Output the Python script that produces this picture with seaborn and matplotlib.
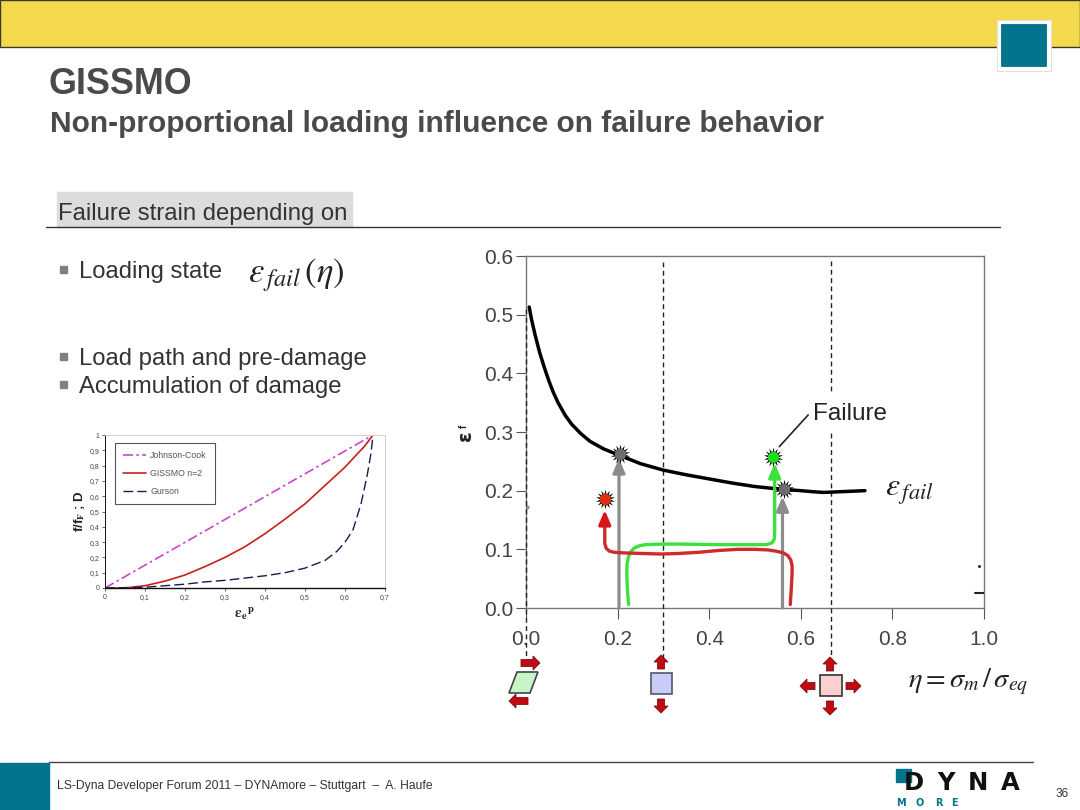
import matplotlib
matplotlib.use('Agg')
import matplotlib.pyplot as plt
from matplotlib.patches import Rectangle, Polygon, FancyArrow
import seaborn as sns

# main chart: failure strain over triaxiality
fail_eta = [0.007, 0.012, 0.02, 0.03, 0.04, 0.05, 0.06, 0.07, 0.086, 0.10, 0.12, 0.14, 0.17, 0.205, 0.25, 0.30, 0.35, 0.40, 0.45, 0.50, 0.55, 0.60, 0.63, 0.65, 0.68, 0.71, 0.74]
fail_eps = [0.513, 0.492, 0.465, 0.435, 0.41, 0.387, 0.367, 0.35, 0.328, 0.313, 0.297, 0.284, 0.271, 0.26, 0.246, 0.235, 0.227, 0.22, 0.213, 0.207, 0.203, 0.2, 0.198, 0.197, 0.198, 0.199, 0.2]

green_eta = [0.224, 0.2215, 0.22, 0.2205, 0.224, 0.229, 0.236, 0.247, 0.261, 0.30, 0.336, 0.42, 0.503, 0.525, 0.537, 0.542, 0.543, 0.543]
green_eps = [0.006, 0.03, 0.06, 0.075, 0.088, 0.096, 0.102, 0.106, 0.108, 0.109, 0.109, 0.108, 0.108, 0.108, 0.111, 0.117, 0.13, 0.225]
red_eta = [0.577, 0.579, 0.581, 0.581, 0.578, 0.572, 0.562, 0.545, 0.528, 0.50, 0.462, 0.42, 0.378, 0.335, 0.295, 0.25, 0.211, 0.192, 0.182, 0.175, 0.172, 0.172]
red_eps = [0.006, 0.03, 0.06, 0.072, 0.082, 0.089, 0.094, 0.097, 0.099, 0.1, 0.1, 0.098, 0.095, 0.093, 0.092, 0.093, 0.094, 0.095, 0.097, 0.102, 0.11, 0.145]

gray_eta = [0.203, 0.56]
gray_tip = [0.255, 0.19]
star_eta = [0.205, 0.564, 0.54, 0.172]
star_eps = [0.263, 0.203, 0.258, 0.185]
star_colors = ['#6e6e6e', '#6e6e6e', '#18e018', '#e03010']
main_xticks = [0.0, 0.2, 0.4, 0.6, 0.8, 1.0]
main_yticks = [0.0, 0.1, 0.2, 0.3, 0.4, 0.5, 0.6]

# small chart: damage over plastic strain
jc_x = [0, 0.67]
jc_y = [0, 1]
gissmo_x = [0, 0.05, 0.1, 0.15, 0.2, 0.25, 0.3, 0.35, 0.4, 0.45, 0.5, 0.55, 0.6, 0.65, 0.67]
gissmo_y = [0, 0, 0.015, 0.045, 0.085, 0.14, 0.2, 0.27, 0.355, 0.45, 0.55, 0.67, 0.79, 0.93, 1]
gurson_x = [0, 0.1, 0.15, 0.2, 0.25, 0.3, 0.35, 0.4, 0.45, 0.5, 0.55, 0.58, 0.6, 0.62, 0.64, 0.655, 0.665, 0.67]
gurson_y = [0, 0.005, 0.015, 0.025, 0.04, 0.05, 0.065, 0.08, 0.1, 0.13, 0.18, 0.24, 0.3, 0.38, 0.55, 0.73, 0.88, 1]
small_xticks = [0, 0.1, 0.2, 0.3, 0.4, 0.5, 0.6, 0.7]
small_xlabels = ['0', '0,1', '0,2', '0,3', '0,4', '0,5', '0,6', '0,7']
small_yticks = [0, 0.1, 0.2, 0.3, 0.4, 0.5, 0.6, 0.7, 0.8, 0.9, 1]
small_ylabels = ['0', '0,1', '0,2', '0,3', '0,4', '0,5', '0,6', '0,7', '0,8', '0,9', '1']

sns.set_theme(style='white')
plt.rcParams['font.family'] = ['Liberation Sans', 'DejaVu Sans']
plt.rcParams['mathtext.fontset'] = 'stix'

W, H = 1080, 810
TEAL = '#00748a'
ARROW = '#c00a14'
TITLE = '#4a4a4a'
HEAD = '-|>,head_width=0.3,head_length=0.7'


def px_axes(fig, left, top, right, bottom, **kw):
    return fig.add_axes([left / W, 1 - bottom / H, (right - left) / W, (bottom - top) / H], **kw)


def bullet(ax, y, text):
    ax.add_patch(Rectangle((60, y - 4), 7, 7, color='#808080'))
    ax.text(79, y + 2, text, fontsize=17.2, color='#333333', va='center')


def red_arrow(ax, x0, y0, x1, y1):
    ax.add_patch(FancyArrow(x0, y0, x1 - x0, y1 - y0, width=7, head_width=14, head_length=7,
                            length_includes_head=True, fc=ARROW, ec='#801010', lw=0.6))


def up_arrow(ax, x, y0, y1, color, lw, z):
    ax.annotate('', xy=(x, y1), xytext=(x, y0), zorder=z,
                arrowprops=dict(arrowstyle=HEAD, color=color, lw=lw, shrinkA=0, shrinkB=0))


fig = plt.figure(figsize=(10.8, 8.1), dpi=100)

# slide furniture in pixel coordinates
bg = px_axes(fig, 0, 0, W, H, zorder=0)
bg.set_xlim(0, W)
bg.set_ylim(H, 0)
bg.axis('off')
bg.add_patch(Rectangle((0, 0), W, 47, fc='#f4d84e', ec='#3a3a20', lw=1))
bg.add_patch(Rectangle((999, 22), 50, 47, fc=TEAL, ec='white', lw=3, zorder=3))
bg.add_patch(Rectangle((997, 20), 54, 51, fc='none', ec='#e0e0e0', lw=0.8, zorder=3))
bg.text(49, 84, 'GISSMO', fontsize=25.8, fontweight='bold', color=TITLE, va='center')
bg.text(50, 124, 'Non-proportional loading influence on failure behavior', fontsize=21.5,
        fontweight='bold', color=TITLE, va='center')
bg.add_patch(Rectangle((57, 192), 295, 35, color='#dcdcdc'))
bg.text(58, 214, 'Failure strain depending on', fontsize=17.2, color='#333333', va='center')
bg.plot([46, 1000], [227, 227], color='#333333', lw=1)
bullet(bg, 270, 'Loading state')
bg.text(248, 275, r'$\varepsilon_{\,fail}\,(\eta)$', fontsize=25, color='#222222', va='center')
bullet(bg, 357, 'Load path and pre-damage')
bullet(bg, 385, 'Accumulation of damage')

bg.add_patch(Rectangle((0, 763), 49, 47, color=TEAL))
bg.plot([49, 1033], [762, 762], color='#444444', lw=1)
bg.text(57, 786, 'LS-Dyna Developer Forum 2011 \u2013 DYNAmore \u2013 Stuttgart  \u2013  A. Haufe',
        fontsize=8.7, color='#333333', va='center')
bg.add_patch(Rectangle((896, 769), 15, 13, color=TEAL))
for letter, lx in zip('DYNA', [904, 937, 968, 1001]):
    bg.text(lx, 783, letter, fontsize=17.5, fontweight='bold', family='DejaVu Sans', color='#111111', va='center')
for letter, lx in zip('MORE', [896, 916, 935, 951]):
    bg.text(lx, 803, letter, fontsize=7, fontweight='bold', family='DejaVu Sans', color=TEAL, va='center')
bg.text(1056, 794, '36', fontsize=8.5, color='#333333', va='center')

# main chart
ax = px_axes(fig, 526, 256, 984, 608, zorder=2)
ax.patch.set_alpha(0)
sns.lineplot(x=fail_eta, y=fail_eps, ax=ax, color='black', lw=2.5, sort=False, estimator=None, zorder=4)
for gx, tip in zip(gray_eta, gray_tip):
    up_arrow(ax, gx, 0, tip, '#8c8c8c', 2.3, 3)
sns.lineplot(x=green_eta, y=green_eps, ax=ax, color='#3ee03e', lw=2.4, sort=False, estimator=None, zorder=5)
sns.lineplot(x=red_eta, y=red_eps, ax=ax, color='#d02a2a', lw=2.4, sort=False, estimator=None, zorder=5)
up_arrow(ax, green_eta[-1], green_eps[-1], 0.247, '#3ee03e', 2.4, 5)
up_arrow(ax, red_eta[-1], red_eps[-1], 0.167, '#d81818', 2.4, 5)
for sx, sy, sc in zip(star_eta, star_eps, star_colors):
    sns.scatterplot(x=[sx], y=[sy], ax=ax, marker=(14, 1, 0), s=200, color='black', linewidth=0, zorder=6)
    sns.scatterplot(x=[sx], y=[sy], ax=ax, marker='o', s=65, color=sc, linewidth=0, zorder=7)
# dashed state lines, the last one breaks behind the Failure label
dash = dict(color='#222222', lw=1, ls=(0, (3.5, 2.5)), clip_on=False, zorder=3)
ax.plot([0.0, 0.0], [0.51, -0.09], **dash)
ax.plot([0.3, 0.3], [0.59, -0.09], **dash)
ax.plot([0.667, 0.667], [0.592, 0.369], **dash)
ax.plot([0.667, 0.667], [0.298, -0.09], **dash)
ax.plot([0.553, 0.616], [0.275, 0.329], color='#222222', lw=1.2, zorder=6)
ax.plot([0.98, 1.0], [0.0255, 0.0255], color='#222222', lw=1.5, zorder=6)
ax.plot([0.989], [0.071], marker='o', ms=1.2, color='#333333')
ax.plot([0.003], [0.172], marker='o', ms=2, color='#cc66cc')
ax.set_xlim(0, 1)
ax.set_ylim(0, 0.6)
ax.set_xticks(main_xticks)
ax.set_yticks(main_yticks)
ax.set_xticklabels([f'{v:.1f}' for v in main_xticks])
ax.set_yticklabels([f'{v:.1f}' for v in main_yticks])
ax.tick_params(axis='both', direction='out', width=0.8, color='#555555', labelsize=15, labelcolor='#444444', left=True, bottom=True)
ax.tick_params(axis='x', length=8, pad=8)
ax.tick_params(axis='y', length=7, pad=2)
for sp in ax.spines.values():
    sp.set_color('#777777')
    sp.set_linewidth(1)

# small chart
inset = px_axes(fig, 105, 435, 385, 588, zorder=2)
inset.patch.set_alpha(0)
sns.lineplot(x=jc_x, y=jc_y, ax=inset, color='#cc44cc', lw=1.2, ls=(0, (6, 2, 1.5, 2)), label='Johnson-Cook', sort=False, estimator=None)
sns.lineplot(x=gissmo_x, y=gissmo_y, ax=inset, color='#c8201c', lw=1.2, label='GISSMO n=2', sort=False, estimator=None)
sns.lineplot(x=gurson_x, y=gurson_y, ax=inset, color='#1a1a50', lw=1, ls=(0, (7, 3)), label='Gurson', sort=False, estimator=None)
inset.set_xlim(0, 0.7)
inset.set_ylim(0, 1)
inset.set_xticks(small_xticks)
inset.set_xticklabels(small_xlabels)
inset.set_yticks(small_yticks)
inset.set_yticklabels(small_ylabels)
inset.tick_params(axis='both', length=2, width=0.5, labelsize=5, labelcolor='#444444', pad=2, left=True, bottom=True)
for name, sp in inset.spines.items():
    sp.set_color('#111111' if name in ('bottom', 'left') else '#d0d0d0')
    sp.set_linewidth(1 if name == 'bottom' else 0.7)
leg = inset.legend(loc='upper left', bbox_to_anchor=(0.036, 0.947), borderaxespad=0, fontsize=6.3, fancybox=False, framealpha=1,
                   edgecolor='#555555', labelcolor='#555555', borderpad=0.9, labelspacing=1.05, handlelength=2.6, handletextpad=0.5)
leg.get_frame().set_linewidth(0.8)
inset.set_xlabel(r'$\mathbf{\varepsilon_e}^{\,\mathbf{p}}$', fontsize=11, labelpad=3, color='#222222')
inset.set_ylabel(r'f/f$_\mathbf{F}$ ; D', fontsize=9.5, fontweight='bold', labelpad=2, color='#222222')

# labels and state icons on top of everything
fg = px_axes(fig, 0, 0, W, H, zorder=5)
fg.set_xlim(0, W)
fg.set_ylim(H, 0)
fg.axis('off')
fg.patch.set_alpha(0)
fg.text(465, 436, '\u03b5', fontsize=14, fontweight='bold', family='DejaVu Sans', rotation=90, ha='center', va='center', color='#222222')
fg.text(464, 426, 'f', fontsize=7, fontweight='bold', rotation=90, ha='center', va='center', color='#222222')
fg.text(813, 414, 'Failure', fontsize=17.5, color='#222222', va='center')
fg.text(885, 492, r'$\varepsilon_{\,fail}$', fontsize=23, color='#222222', va='center')
fg.text(908, 682, r'$\eta = \sigma_m\,/\,\sigma_{eq}$', fontsize=20.5, color='#222222', va='center')

fg.add_patch(Polygon([(509, 693), (530, 693), (538, 672), (517, 672)], fc='#c8f5c8', ec='#444444', lw=1.2))
red_arrow(fg, 521, 663, 540, 663)
red_arrow(fg, 528, 701, 509, 701)
fg.add_patch(Rectangle((651, 673), 21, 21, fc='#c8ccf8', ec='#555566', lw=1.2))
red_arrow(fg, 661, 669, 661, 655)
red_arrow(fg, 661, 699, 661, 713)
fg.add_patch(Rectangle((820, 675), 22, 21, fc='#fcd0d0', ec='#333333', lw=1.2))
red_arrow(fg, 830, 671, 830, 657)
red_arrow(fg, 830, 701, 830, 715)
red_arrow(fg, 815, 686, 800, 686)
red_arrow(fg, 846, 686, 861, 686)

fig.savefig('out.png', dpi=100)
